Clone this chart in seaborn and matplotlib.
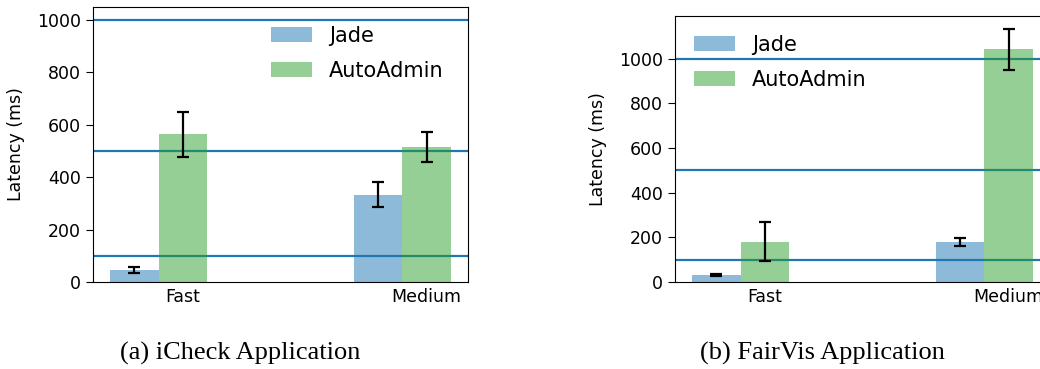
import matplotlib
matplotlib.use("Agg")
import matplotlib.pyplot as plt
import seaborn as sns
import pandas as pd

categories = ["Fast", "Medium"]
systems = ["Jade", "AutoAdmin"]

icheck_jade = [46, 334]
icheck_jade_err = [13, 46]
icheck_auto = [564, 515]
icheck_auto_err = [85, 56]

fairvis_jade = [33, 179]
fairvis_jade_err = [5, 16]
fairvis_auto = [181, 1042]
fairvis_auto_err = [87, 92]

thresholds = [100, 500, 1000]
captions = ["(a) iCheck Application", "(b) FairVis Application"]
colors = ["tab:blue", "tab:green"]


def make_df(jade, auto):
    rows = []
    for c, j, a in zip(categories, jade, auto):
        rows.append({"category": c, "system": "Jade", "latency": j})
        rows.append({"category": c, "system": "AutoAdmin", "latency": a})
    return pd.DataFrame(rows)


def draw(ax, jade, jade_err, auto, auto_err, legend_kw):
    for t in thresholds:
        ax.axhline(t, color="tab:blue", lw=1.6, zorder=0.9)
    df = make_df(jade, auto)
    sns.barplot(data=df, x="category", y="latency", hue="system",
                hue_order=systems, order=categories, palette=colors,
                alpha=0.5, saturation=1, width=0.4, errorbar=None,
                ax=ax, legend=False)
    errs = [jade_err, auto_err]
    vals = [jade, auto]
    centers = []
    for cont, v, e in zip(ax.containers, vals, errs):
        xs = [b.get_x() + b.get_width() / 2 for b in cont.patches]
        centers.append(xs)
        ax.errorbar(xs, v, yerr=e, fmt="none", ecolor="black",
                    elinewidth=1.6, capsize=4, capthick=1.6, zorder=3)
    ax.set_xticks(centers[1])
    ax.set_xticklabels(categories)
    left = ax.containers[0].patches[0].get_x()
    last = ax.containers[1].patches[-1]
    right = last.get_x() + last.get_width()
    pad = 0.05 * (right - left)
    ax.set_xlim(left - pad, right + pad)
    ax.set_xlabel("")
    ax.set_ylabel("Latency (ms)", fontsize=12.5, labelpad=9)
    ax.tick_params(labelsize=12.5, length=5)
    ax.tick_params(axis="x", length=0, pad=4)
    ax.set_yticks([0, 200, 400, 600, 800, 1000])
    ax.legend(handles=list(ax.containers), labels=systems,
              frameon=False, fontsize=15, labelspacing=0.72, **legend_kw)


fig = plt.figure(figsize=(10.4, 3.69), dpi=100)
W, H = 1040, 369
ax1 = fig.add_axes([93 / W, 87 / H, 375 / W, 275 / H])
ax2 = fig.add_axes([675 / W, 87 / H, 375 / W, 266 / H])

draw(ax1, icheck_jade, icheck_jade_err, icheck_auto, icheck_auto_err,
     dict(loc="upper right", bbox_to_anchor=(0.985, 1.0)))
draw(ax2, fairvis_jade, fairvis_jade_err, fairvis_auto, fairvis_auto_err,
     dict(loc="upper left"))
ax1.set_ylim(0, 1050)

fig.text(240 / W, 1 - 353 / H, captions[0], ha="center", va="center",
         fontsize=19, family="Liberation Serif")
fig.text(822 / W, 1 - 353 / H, captions[1], ha="center", va="center",
         fontsize=19, family="Liberation Serif")

fig.savefig("out.png", dpi=100)
